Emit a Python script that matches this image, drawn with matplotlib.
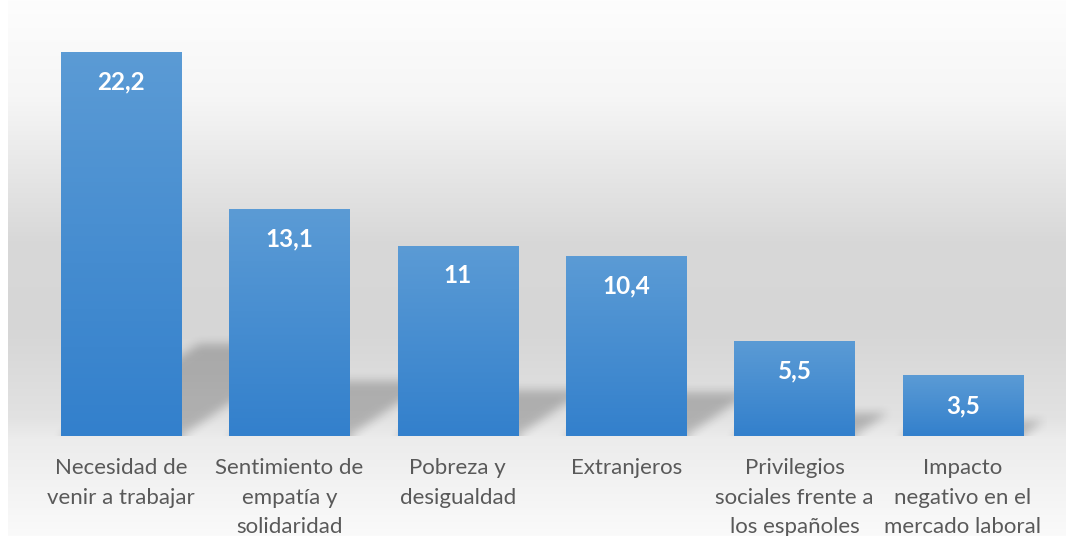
import numpy as np
import matplotlib.pyplot as plt
from matplotlib.colors import LinearSegmentedColormap

# Datos
categorias = ['Necesidad de\nvenir a trabajar', 'Sentimiento de\nempatía y\nsolidaridad',
              'Pobreza y\ndesigualdad', 'Extranjeros',
              'Privilegios\nsociales frente a\nlos españoles',
              'Impacto\nnegativo en el\nmercado laboral']
valores = [22.2, 13.1, 11, 10.4, 5.5, 3.5]
etiquetas = ['22,2', '13,1', '11', '10,4', '5,5', '3,5']

fig = plt.figure(figsize=(10.66, 5.36), dpi=100)

# Fondo degradado del gráfico
bg = fig.add_axes([8 / 1066, 0, 1, 1], zorder=-10)
stops_y = np.array([0.0, 0.18, 0.45, 0.62, 0.78, 0.82, 1.0])
stops_v = np.array([253, 246, 216, 214, 226, 236, 250]) / 255
yy = np.linspace(0, 1, 536)
grad = np.interp(yy, stops_y, stops_v)
bg.imshow(np.repeat(grad[:, None], 2, axis=1)[:, :, None].repeat(3, axis=2),
          aspect='auto', extent=(0, 1, 0, 1), origin='upper')
bg.axis('off')

ax = fig.add_axes([37 / 1066, 100 / 536, 1010 / 1066, 25 * 17.3 / 536])
ax.set_xlim(-0.5, 5.5)
ax.set_ylim(0, 25)
ax.patch.set_visible(False)

x = np.arange(len(valores))
ancho = 0.713
barras = ax.bar(x, valores, width=ancho, color='#4a8fd2', zorder=3)

# Sombra en perspectiva (proyectada a la derecha, difuminada)
nx, ny = 1010, 432
gx = np.linspace(-0.5, 5.5, nx)
gy = np.linspace(0, 25, ny)
GX, GY = np.meshgrid(gx, gy)
mask = np.zeros_like(GX)
for xi, v in zip(x, valores):
    h = 0.24 * v
    dx = 0.037 * v
    sx = GX - dx * GY / h
    m = (GY <= h) & (sx >= xi - ancho / 2) & (sx <= xi + ancho / 2)
    mask = np.maximum(mask, m.astype(float))


def suavizar(a, k, axis):
    c = np.cumsum(np.pad(a, [(k, k) if i == axis else (0, 0) for i in range(2)], mode='edge'), axis=axis)
    c = np.insert(c, 0, 0, axis=axis)
    n = a.shape[axis]
    return (np.take(c, np.arange(2 * k + 1, n + 2 * k + 1), axis=axis)
            - np.take(c, np.arange(0, n), axis=axis)) / (2 * k + 1)


for _ in range(2):
    mask = suavizar(mask, 5, 0)
    mask = suavizar(mask, 5, 1)
sombra = np.zeros((ny, nx, 4))
sombra[..., 3] = mask * 0.22
ax.imshow(sombra, extent=(-0.5, 5.5, 0, 25), origin='lower', aspect='auto', zorder=2)

# Degradado de las barras
cmap = LinearSegmentedColormap.from_list('azul', ['#3380cc', '#5b9bd5'])
for b in barras:
    im = ax.imshow(np.linspace(0, 1, 100)[:, None], cmap=cmap, aspect='auto', origin='lower',
                   extent=(b.get_x(), b.get_x() + b.get_width(), 0, b.get_height()), zorder=4)
    im.set_clip_path(b)

ax.set_xlim(-0.5, 5.5)
ax.set_ylim(0, 25)

for xi, v, t in zip(x, valores, etiquetas):
    ax.annotate(t, (xi, v), xytext=(0, -21.6), textcoords='offset points', ha='center', va='center',
                color='white', fontsize=17.5, fontweight='bold', family='Lato', zorder=5)

ax.set_xticks(x)
ax.set_xticklabels(categorias, fontsize=16, color='#595959', family='Lato', linespacing=1.6)
ax.tick_params(axis='x', length=0, pad=16)
ax.set_yticks([])
for s in ax.spines.values():
    s.set_visible(False)

fig.savefig('out.png', dpi=100)
